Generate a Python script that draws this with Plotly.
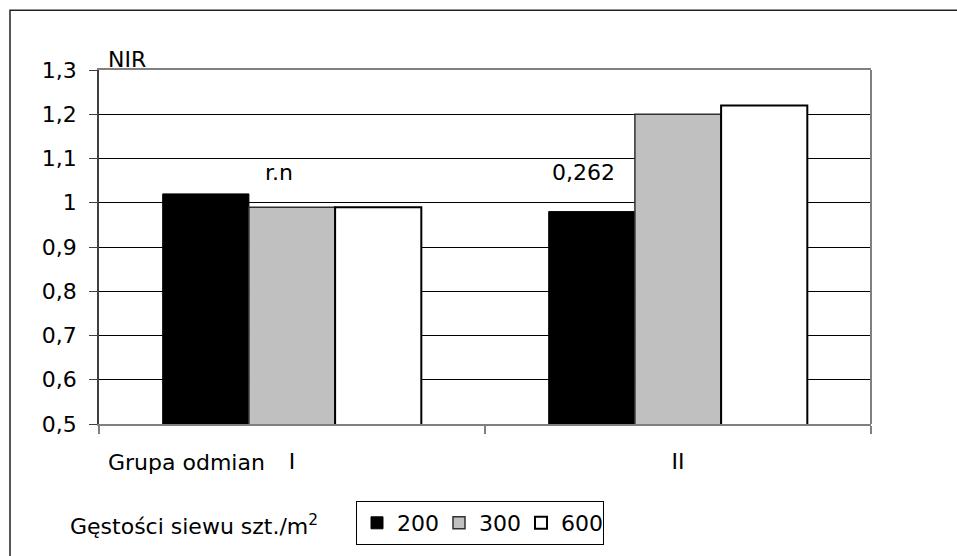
import plotly.graph_objects as go

# Plant density per m2 vs. variety group
groups = ["I", "II"]
densities = ["200", "300", "600"]
values_200 = [1.02, 0.98]
values_300 = [0.99, 1.20]
values_600 = [0.99, 1.22]

series = [values_200, values_300, values_600]
fills = ["#000000", "#C0C0C0", "#FFFFFF"]
edges = ["#000000", "#303030", "#000000"]
edge_w = [1, 1.5, 2]

FONT = "DejaVu Sans"
FS = 22

fig = go.Figure()
for name, vals, fc, ec, ew in zip(densities, series, fills, edges, edge_w):
    fig.add_trace(go.Bar(
        x=groups, y=vals, name=name,
        marker=dict(color=fc, line=dict(color=ec, width=ew)),
    ))

W, H = 957, 556
L, R, T, B = 99, 86, 70, 131
pw, ph = W - L - R, H - T - B


def px(xp):
    return (xp - L) / pw


def py(yp):
    return (H - B - yp) / ph


fig.update_layout(
    width=W, height=H,
    margin=dict(l=L, r=R, t=T, b=B, pad=0),
    paper_bgcolor="white", plot_bgcolor="white",
    font=dict(family=FONT, size=FS, color="#000000"),
    separators=", ",
    barmode="group", bargap=0.33, bargroupgap=0,
    showlegend=True,
    legend=dict(
        orientation="h", x=px(356), y=py(501), xanchor="left", yanchor="top",
        bordercolor="#000000", borderwidth=1, bgcolor="white",
        font=dict(family=FONT, size=FS), itemwidth=30,
        entrywidth=37, entrywidthmode="pixels",
        traceorder="normal",
    ),
    xaxis=dict(
        type="category", showline=True, linecolor="#808080", linewidth=2,
        mirror=True, ticks="outside", tickson="boundaries", ticklen=8,
        tickcolor="#808080", tickwidth=2, showgrid=False,
        ticklabelstandoff=17, tickfont=dict(family=FONT, size=FS),
    ),
    yaxis=dict(
        range=[0.5, 1.3], dtick=0.1, tick0=0.5, showline=True,
        linecolor="#404040", linewidth=1.5, ticks="outside", ticklen=8,
        tickcolor="#404040", showgrid=True, gridcolor="#000000", gridwidth=1,
        zeroline=False, ticklabelstandoff=8,
        tickfont=dict(family=FONT, size=FS),
    ),
)

# right edge of the plot frame
fig.add_shape(type="line", xref="paper", yref="paper", x0=1, x1=1, y0=0, y1=1,
              line=dict(color="#808080", width=2))
# outer chart frame
fig.add_shape(type="rect", xref="paper", yref="paper",
              x0=px(10), x1=px(975), y0=py(575), y1=py(10),
              line=dict(color="#222222", width=1.5), layer="above")

fig.add_annotation(text="NIR", xref="paper", yref="paper", x=px(106), y=py(59),
                   xanchor="left", yanchor="middle", showarrow=False,
                   font=dict(family=FONT, size=FS))
fig.add_annotation(text="r.n", x="I", y=1.068, xshift=-13, showarrow=False,
                   xanchor="center", yanchor="middle",
                   font=dict(family=FONT, size=FS))
fig.add_annotation(text="0,262", x="II", y=1.068, xshift=-95, showarrow=False,
                   xanchor="center", yanchor="middle",
                   font=dict(family=FONT, size=FS))
fig.add_annotation(text="Grupa odmian", xref="paper", yref="paper",
                   x=px(106), y=py(464), xanchor="left", yanchor="middle",
                   showarrow=False, font=dict(family=FONT, size=FS))
fig.add_annotation(text="Gęstości siewu szt./m<sup>2</sup>", xref="paper",
                   yref="paper", x=px(68), y=py(526), xanchor="left",
                   yanchor="middle", showarrow=False,
                   font=dict(family=FONT, size=FS))

fig.write_html("out.html")
